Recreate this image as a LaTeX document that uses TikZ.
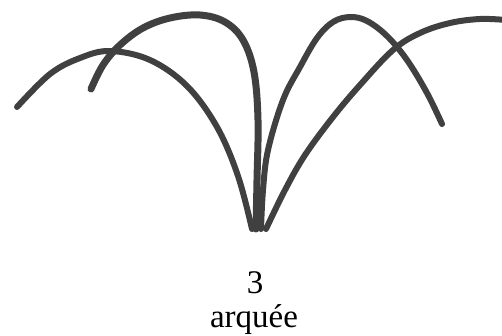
\documentclass[tikz,border=0pt]{standalone}
\usepackage{fontspec}
\setmainfont{Liberation Serif}

\begin{document}
\begin{tikzpicture}[
        x=1pt, y=-1pt,
        stem/.style={draw=black!75, line width=6pt, line cap=round, line join=round},
        caption/.style={font=\fontsize{33}{38}\selectfont, inner sep=0pt, anchor=base}
    ]
        \useasboundingbox (0,0) rectangle (502,335);

        % Arches
        \draw [stem] plot[smooth, tension=0.6] coordinates {(17,107) (50,74) (80,58) (110,51) (150,60) (187,86) (217,127) (238,176) (252,229)};
        \draw [stem, line width=7pt] plot[smooth, tension=0.6] coordinates {(91,89) (103,65) (120,45) (143,28) (170,18) (200,15) (225,22) (243,40) (254,72) (258,120) (257,180) (256,229)};
        \draw [stem] plot[smooth, tension=0.6] coordinates {(261,229) (263,190) (268,150) (283,100) (300,67) (317,38) (333,22) (350,17) (367,21) (387,36) (407,60) (427,93) (442,124)};
        \draw [stem] plot[smooth, tension=0.6] coordinates {(266,229) (285,190) (305,155) (333,117) (360,85) (393,50) (420,33) (450,23) (480,19) (506,20)};

        % Caption
        \node (num) [caption] at (255,293) {3};
        \node (kind) [caption] at (254,327) {arquée};
    \end{tikzpicture}
\end{document}
